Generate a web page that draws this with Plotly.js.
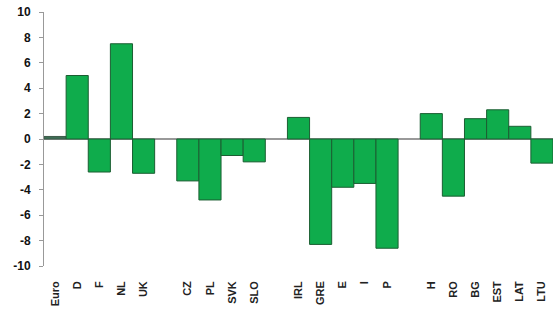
<!DOCTYPE html>
<html><head><meta charset="utf-8">
<script src="https://cdn.plot.ly/plotly-3.0.1.min.js"></script>
<style>html,body{margin:0;padding:0;background:#fff}#chart{width:553px;height:311px}</style>
</head><body><div id="chart"></div>
<script>
const categories = ["Euro","D","F","NL","UK"," ","CZ","PL","SVK","SLO","  ","IRL","GRE","E","I","P","   ","H","RO","BG","EST","LAT","LTU"];
const values =     [0.2, 5.0, -2.6, 7.5, -2.7, null, -3.3, -4.8, -1.3, -1.8, null, 1.7, -8.3, -3.8, -3.5, -8.6, null, 2.0, -4.5, 1.6, 2.3, 1.0, -1.9];
const tickVals = [-10,-8,-6,-4,-2,0,2,4,6,8,10];

const colors = categories.map(c => c === "Euro" ? "#3d6e55" : "#0fac4c");
const lines = categories.map(c => c === "Euro" ? "#3d5a4a" : "#1b5e32");

Plotly.newPlot("chart", [{
  type: "bar",
  x: categories,
  y: values,
  marker: {color: colors, line: {color: lines, width: 1}},
  hoverinfo: "skip"
}], {
  width: 553, height: 311,
  margin: {l: 44, r: 0, t: 12, b: 45},
  bargap: 0,
  showlegend: false,
  paper_bgcolor: "#fff", plot_bgcolor: "#fff",
  font: {family: "Liberation Sans, Arial, sans-serif", color: "#111"},
  xaxis: {
    type: "category",
    tickangle: -90,
    tickfont: {size: 11, family: "Liberation Sans, Arial, sans-serif", weight: "bold", color: "#222"},
    ticklabelstandoff: 12,
    showgrid: false, showline: false, zeroline: false, ticks: "",
    range: [-0.5, 22.5], fixedrange: true
  },
  yaxis: {
    range: [-10, 10],
    tickvals: tickVals,
    ticktext: tickVals.map(String),
    tickfont: {size: 12, family: "Liberation Sans, Arial, sans-serif", weight: "bold", color: "#111"},
    ticklabelstandoff: 6,
    showgrid: false,
    showline: true, linecolor: "#999", linewidth: 1,
    ticks: "outside", ticklen: 4, tickcolor: "#999",
    zeroline: true, zerolinecolor: "#999", zerolinewidth: 1.5
  }
}, {staticPlot: true});
</script></body></html>
